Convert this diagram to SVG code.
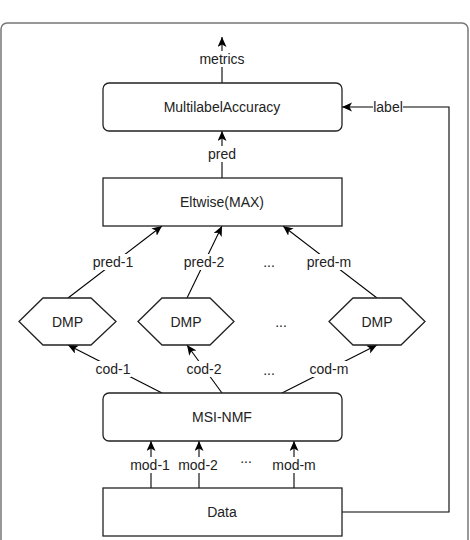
<svg xmlns="http://www.w3.org/2000/svg" width="470" height="540" viewBox="0 0 470 540">
<defs>
<marker id="arr" markerWidth="11" markerHeight="10" refX="10" refY="4.5" orient="auto" markerUnits="userSpaceOnUse">
<path d="M0,0 L10,4.5 L0,9 L2.5,4.5 Z" fill="#000"/>
</marker>
<style>
.box{fill:#fff;stroke:#222;stroke-width:1.3}
.frame{fill:#fff;stroke:#777;stroke-width:1.5}
.ln{fill:none;stroke:#000;stroke-width:1.1;marker-end:url(#arr)}
text{font-family:"Liberation Sans",Arial,Helvetica,sans-serif;font-size:14px;fill:#222;text-anchor:middle}
.bg{fill:#fff}
</style>
</defs>
<rect class="frame" x="1" y="23" width="467" height="540" rx="6"/>

<g id="connectors">
<path class="ln" d="M222,83 V37"/>
<path class="ln" d="M222,178 V131"/>
<path class="ln" d="M342,512 H449 V107 H342"/>
<path class="ln" d="M68,298 L162,226"/>
<path class="ln" d="M187,298 L222,226"/>
<path class="ln" d="M377,298 L283,226"/>
<path class="ln" d="M162,393 L68,345"/>
<path class="ln" d="M222,393 L187,345"/>
<path class="ln" d="M282,393 L377,345"/>
<path class="ln" d="M151,488 V441"/>
<path class="ln" d="M199,488 V441"/>
<path class="ln" d="M294,488 V441"/>
<rect class="bg" x="198" y="51" width="48" height="16"/>
<text x="222" y="64">metrics</text>
<rect class="bg" x="206" y="146" width="32" height="16"/>
<text x="222" y="159">pred</text>
<rect class="bg" x="373" y="99" width="30" height="16"/>
<text x="388" y="112">label</text>
<rect class="bg" x="92" y="254" width="42" height="16"/>
<text x="113" y="267">pred-1</text>
<rect class="bg" x="183" y="254" width="42" height="16"/>
<text x="204" y="267">pred-2</text>
<rect class="bg" x="306" y="254" width="46" height="16"/>
<text x="329" y="267">pred-m</text>
<text x="269" y="267">...</text>
<rect class="bg" x="95" y="361" width="36" height="16"/>
<text x="113" y="374">cod-1</text>
<rect class="bg" x="186" y="361" width="36" height="16"/>
<text x="204" y="374">cod-2</text>
<rect class="bg" x="309" y="361" width="40" height="16"/>
<text x="329" y="374">cod-m</text>
<text x="269" y="375">...</text>
<rect class="bg" x="130" y="457" width="40" height="16"/>
<text x="150" y="470">mod-1</text>
<rect class="bg" x="178" y="457" width="40" height="16"/>
<text x="198" y="470">mod-2</text>
<rect class="bg" x="272" y="457" width="44" height="16"/>
<text x="294" y="470">mod-m</text>
<text x="246" y="463">...</text>
</g>

<g id="multilabel">
<rect class="box" x="103" y="83" width="239" height="48" rx="6"/>
<text x="222" y="112">MultilabelAccuracy</text>
</g>
<g id="eltwise">
<rect class="box" x="103" y="178" width="239" height="48"/>
<text x="222" y="207">Eltwise(MAX)</text>
</g>
<g id="dmp1">
<polygon class="box" points="19,321.5 43,298 91,298 116,321.5 91,345 43,345"/>
<text x="67.5" y="326.5">DMP</text>
</g>
<g id="dmp2">
<polygon class="box" points="138,321.5 162,298 210,298 234,321.5 210,345 162,345"/>
<text x="186" y="326.5">DMP</text>
</g>
<g id="dmp-dots">
<text x="281" y="327">...</text>
</g>
<g id="dmpm">
<polygon class="box" points="329,321.5 353,298 401,298 425,321.5 401,345 353,345"/>
<text x="377" y="326.5">DMP</text>
</g>
<g id="msinmf">
<rect class="box" x="103" y="393" width="239" height="48" rx="6"/>
<text x="222" y="422">MSI-NMF</text>
</g>
<g id="data">
<rect class="box" x="103" y="488" width="239" height="48"/>
<text x="222" y="517">Data</text>
</g>
</svg>
